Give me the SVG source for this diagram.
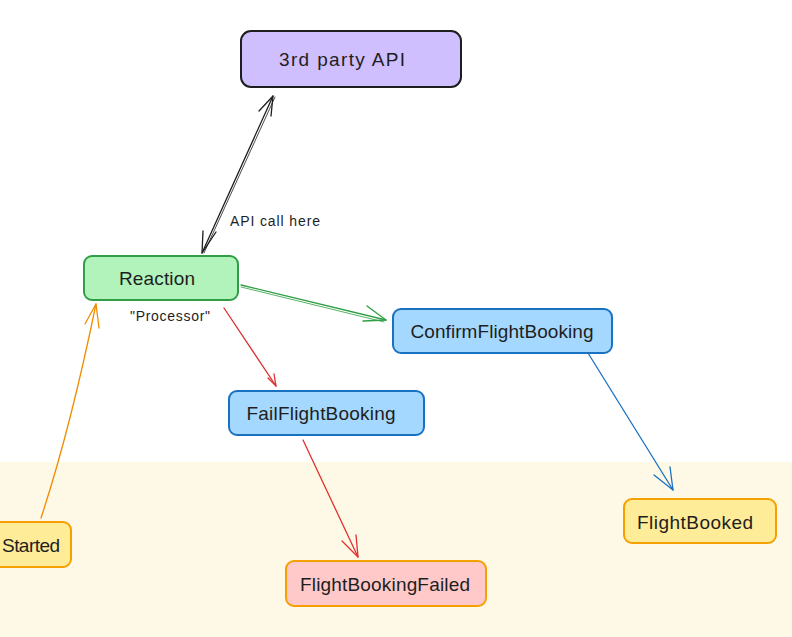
<svg xmlns="http://www.w3.org/2000/svg" width="792" height="637" viewBox="0 0 792 637">
<defs>
<style>
.lbl{font-family:"Liberation Sans",Arial,sans-serif;font-size:19px;fill:#1e1e1e;text-anchor:middle;dominant-baseline:central}
.sm{font-family:"Liberation Sans",Arial,sans-serif;font-size:14px;fill:#1e1e1e;dominant-baseline:central}
.box{stroke-width:2}
.conn{fill:none;stroke-width:1.3;stroke-linecap:round;stroke-linejoin:round}
</style>
</defs>
<rect x="0" y="0" width="792" height="637" fill="#ffffff"/>
<rect x="0" y="462" width="792" height="175" fill="#fef9e7"/>
<g id="connectors">
<g id="c-api" stroke="#1e1e1e" class="conn">
<path d="M202 253 L273 96"/>
<path d="M204 253 L275 97" stroke-width="0.8"/>
<path d="M259 111 L273 96 L271 116"/>
<path d="M216 232 L202 253 L203 231"/>
</g>
<g id="c-confirm" stroke="#2f9e44" class="conn">
<path d="M241 285 L386 320"/>
<path d="M241 287 L384 322" stroke-width="0.8"/>
<path d="M367 306 L386 320 L363 321"/>
</g>
<g id="c-fail" stroke="#e03131" class="conn">
<path d="M224 308 L276 386"/>
<path d="M268 378 L276 386 L274 374"/>
</g>
<g id="c-booked" stroke="#1971c2" class="conn">
<path d="M588 353 L673 490"/>
<path d="M654 475 L673 490 L670 467"/>
</g>
<g id="c-failed" stroke="#e03131" class="conn">
<path d="M303 440 L358 557"/>
<path d="M342 541 L358 557 L356 535"/>
</g>
<g id="c-started" stroke="#f08c00" class="conn">
<path d="M41 518 Q70 430 96 304"/>
<path d="M85 324 L96 304 L99 328"/>
</g>
</g>
<g id="n-api">
<rect class="box" x="241" y="31" width="220" height="56" rx="10" fill="#d0bfff" stroke="#1e1e1e"/>
<text class="lbl" x="342" y="59" textLength="126">3rd party API</text>
</g>
<text class="sm" x="230" y="221" textLength="90">API call here</text>
<g id="n-reaction">
<rect class="box" x="84" y="256" width="154" height="44" rx="8" fill="#b2f2bb" stroke="#2f9e44"/>
<text class="lbl" x="157" y="278" textLength="76">Reaction</text>
</g>
<text class="sm" x="170" y="316" text-anchor="middle" style="text-anchor:middle" textLength="80">"Processor"</text>
<g id="n-confirm">
<rect class="box" x="393" y="309" width="219" height="44" rx="8" fill="#a5d8ff" stroke="#1971c2"/>
<text class="lbl" x="502" y="331" textLength="183">ConfirmFlightBooking</text>
</g>
<g id="n-fail">
<rect class="box" x="229" y="391" width="195" height="44" rx="8" fill="#a5d8ff" stroke="#1971c2"/>
<text class="lbl" x="321" y="413" textLength="149">FailFlightBooking</text>
</g>
<g id="n-booked">
<rect class="box" x="624" y="499" width="152" height="44" rx="8" fill="#ffec99" stroke="#f59f00"/>
<text class="lbl" x="695" y="522" textLength="116">FlightBooked</text>
</g>
<g id="n-failed">
<rect class="box" x="286" y="561" width="200" height="45" rx="8" fill="#ffc9c9" stroke="#f59f00"/>
<text class="lbl" x="385" y="584" textLength="170">FlightBookingFailed</text>
</g>
<g id="n-started">
<rect class="box" x="-60" y="522" width="131" height="45" rx="8" fill="#ffec99" stroke="#f59f00"/>
<text class="lbl" x="2" y="545" style="text-anchor:start" textLength="58">Started</text>
</g>
</svg>
